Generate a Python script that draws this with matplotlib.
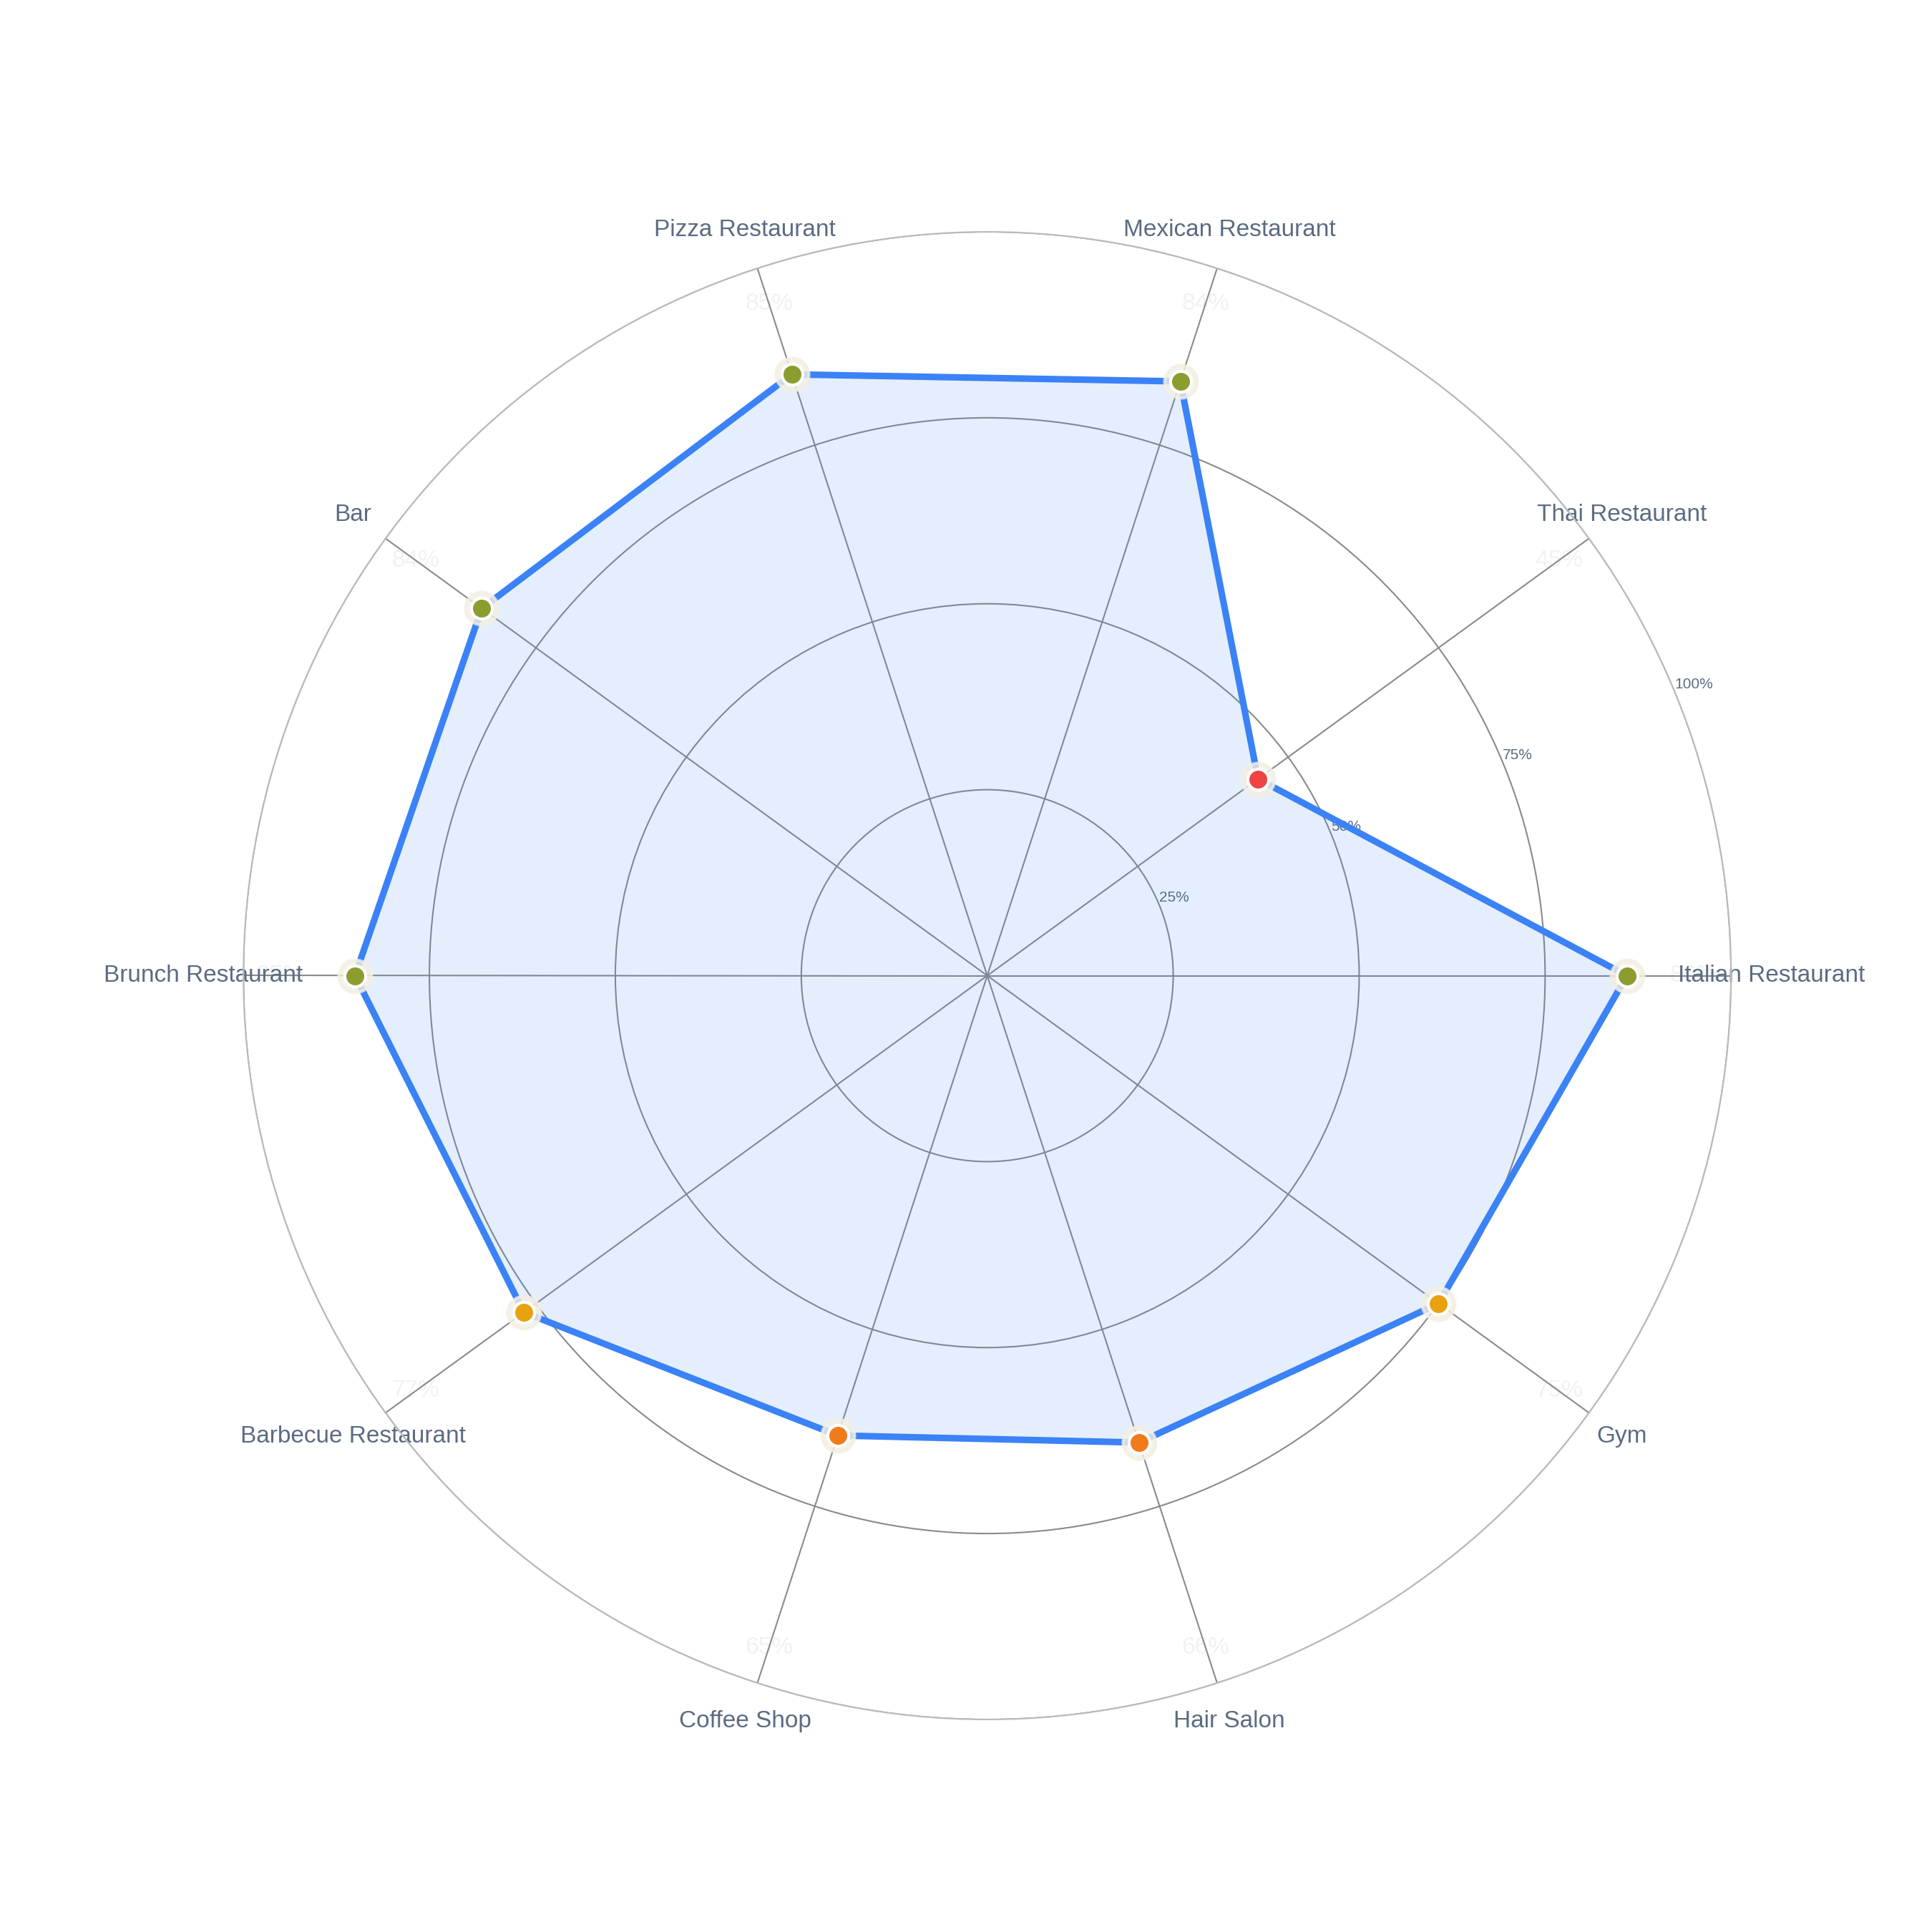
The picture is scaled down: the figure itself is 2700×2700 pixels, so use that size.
import numpy as np
import matplotlib.pyplot as plt

categories = ["Italian Restaurant", "Thai Restaurant", "Mexican Restaurant", "Pizza Restaurant", "Bar",
              "Brunch Restaurant", "Barbecue Restaurant", "Coffee Shop", "Hair Salon", "Gym"]
values = [86, 45, 84, 85, 84, 85, 77, 65, 66, 75]
rticks = [25, 50, 75, 100]
rtick_labels = ["25%", "50%", "75%", "100%"]

def color_for(v):
    if v >= 80: return "#8b9d2e"
    if v >= 70: return "#e8a20f"
    if v >= 60: return "#f07b1b"
    return "#ef4444"

plt.rcParams['font.family'] = ['Liberation Sans', 'DejaVu Sans']
fig = plt.figure(figsize=(9, 9), dpi=300)
ax = fig.add_axes([0.126, 0.110, 0.77, 0.77], projection='polar')
n = len(categories)
ang = np.arange(n) * 2 * np.pi / n
ax.set_ylim(0, 100)
ax.fill(np.append(ang, ang[0]), values + [values[0]], color="#3b82f6", alpha=0.13, zorder=2)
ax.plot(np.append(ang, ang[0]), values + [values[0]], color="#3b82f6", lw=2.2, zorder=3)
for a, v in zip(ang, values):
    ax.plot(a, v, 'o', ms=11, color="#f3efe3", alpha=0.8, zorder=4)
    ax.plot(a, v, 'o', ms=7, mfc=color_for(v), mec="white", mew=1.0, zorder=5)
    ax.text(a, 95, f"{v}%", ha='center', va='center', fontsize=8, color="#f2f2f2", zorder=1)
ax.set_xticks(ang)
ax.set_xticklabels(categories, fontsize=8, color="#5b6b82")
ax.tick_params(axis='x', pad=3)
ax.set_yticks(rticks)
ax.set_yticklabels(rtick_labels, fontsize=5, color="#5b6b82")
ax.set_rlabel_position(22.5)
ax.grid(color="#8a8a8a", lw=0.5)
ax.spines['polar'].set_color("#bbbbbb")
ax.spines['polar'].set_linewidth(0.5)
fig.savefig("out.png", dpi=300, facecolor="white")
